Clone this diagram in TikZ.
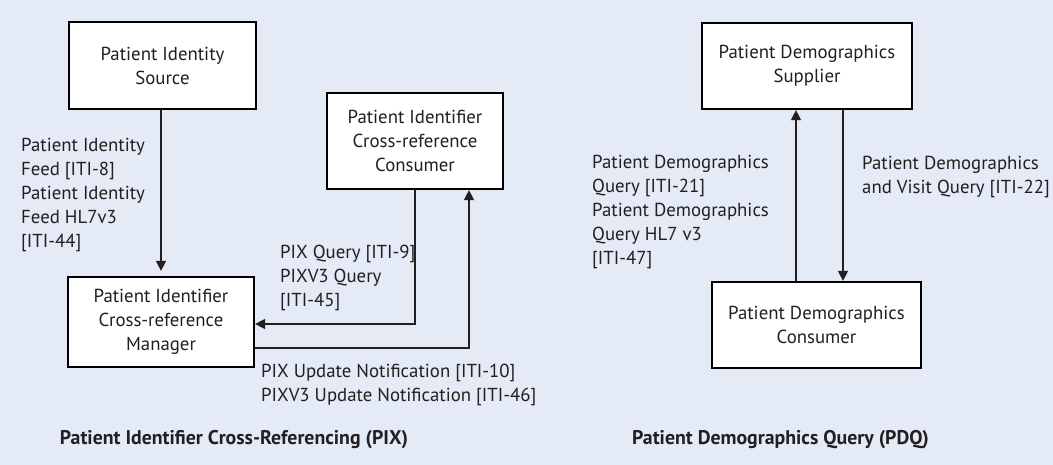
\documentclass[tikz,border=0pt]{standalone}
\usepackage{fontspec}
\setmainfont{PT Sans}
\usetikzlibrary{arrows.meta,positioning}
\definecolor{bgblue}{RGB}{228,234,246}
\definecolor{ink}{RGB}{35,31,32}

\begin{document}
\begin{tikzpicture}[x=1bp,y=-1bp,
	>={Triangle[length=10bp,width=10bp]},
	actor/.style={draw=black,fill=white,line width=2.2bp,align=center,inner sep=0,text=ink,
		font=\fontsize{18.8bp}{24bp}\selectfont},
	lbl/.style={align=left,inner sep=0,text=ink,font=\fontsize{18.8bp}{24bp}\selectfont},
	ttl/.style={inner sep=0,text=ink,font=\fontsize{19.8bp}{24bp}\selectfont\bfseries},
	flow/.style={->,line width=1.3bp,draw=ink}]
	\fill[bgblue] (0,0) rectangle (1053,465);
	\useasboundingbox (0,0) rectangle (1053,465);

	% PIX
	\node[actor,minimum width=187bp,minimum height=87bp] (src) at (162.5,65.5) {Patient Identity\\Source};
	\node[actor,minimum width=186bp,minimum height=90bp] (mgr) at (161,322) {Patient Identifier\\Cross-reference\\Manager};
	\node[actor,minimum width=176bp,minimum height=96bp] (cons) at (415,141) {Patient Identifier\\Cross-reference\\Consumer};
	\coordinate (updx) at ([xshift=54bp]cons.south);

	\draw[flow,shorten >=5bp] (mgr.north |- src.south) -- (mgr.north);
	\draw[flow] (cons.south) |- ([yshift=-2bp]mgr.east);
	\draw[flow] ([yshift=-26bp]mgr.east) -| (updx);

	\node[lbl,anchor=west] (feed) at (21,195) {Patient Identity\\Feed {[ITI-8]}\\Patient Identity\\Feed HL7v3\\{[ITI-44]}};
	\node[lbl,anchor=west] (pixq) at (280,278) {PIX Query {[ITI-9]}\\PIXV3 Query\\{[ITI-45]}};
	\node[lbl,anchor=west] (pixu) at (261,385) {PIX Update Notification {[ITI-10]}\\PIXV3 Update Notification {[ITI-46]}};
	\node[ttl] (pixttl) at (234,440) {Patient Identifier Cross-Referencing (PIX)};

	% PDQ
	\node[actor,minimum width=210bp,minimum height=86bp] (sup) at (807,66) {Patient Demographics\\Supplier};
	\node[actor,minimum width=209bp,minimum height=86bp] (pdc) at (816.5,325) {Patient Demographics\\Consumer};
	\coordinate (qx) at ([xshift=-11bp]sup.south);
	\coordinate (vx) at ([xshift=36bp]sup.south);

	\draw[flow] (qx |- pdc.north) -- (qx);
	\draw[flow] (vx) -- (vx |- pdc.north);

	\node[lbl,anchor=west] (pdqq) at (592,212) {Patient Demographics\\Query {[ITI-21]}\\Patient Demographics\\Query HL7 v3\\{[ITI-47]}};
	\node[lbl,anchor=west] (pdqv) at (862,177) {Patient Demographics\\and Visit Query {[ITI-22]}};
	\node[ttl] (pdqttl) at (780.5,440) {Patient Demographics Query (PDQ)};
\end{tikzpicture}
\end{document}
